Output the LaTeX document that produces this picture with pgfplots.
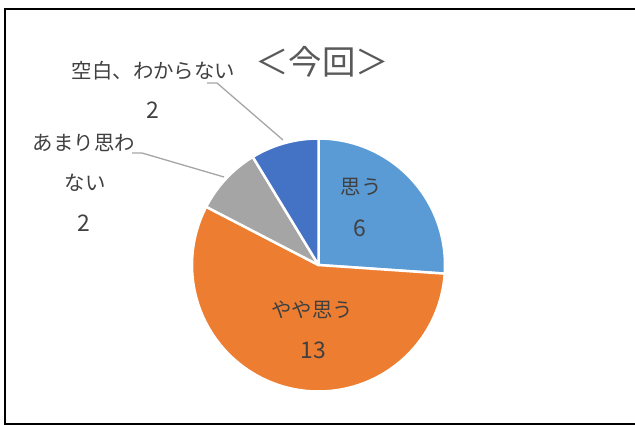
\documentclass[border=0pt]{standalone}
\usepackage{fontspec}
\setmainfont{Noto Sans CJK JP}
\usepackage{pgfplots}
\usepackage{pgfplotstable}
\pgfplotsset{compat=1.18}
\definecolor{cA}{HTML}{5B9BD5}
\definecolor{cB}{HTML}{ED7D31}
\definecolor{cC}{HTML}{A5A5A5}
\definecolor{cD}{HTML}{4472C4}
\definecolor{txt}{HTML}{404040}
\definecolor{ttl}{HTML}{595959}
\definecolor{lead}{HTML}{A6A6A6}
\pgfplotstableread{
label value
A 6
B 13
C 2
D 2
}\piedata
\def\cx{318.5}%
\def\cy{265}%
\def\r{126.5}%
\begin{document}%
\begin{tikzpicture}
\pgfplotstablegetelem{0}{value}\of\piedata\let\va\pgfplotsretval
\pgfplotstablegetelem{1}{value}\of\piedata\let\vb\pgfplotsretval
\pgfplotstablegetelem{2}{value}\of\piedata\let\vc\pgfplotsretval
\pgfplotstablegetelem{3}{value}\of\piedata\let\vd\pgfplotsretval
\pgfmathsetmacro{\tot}{\va+\vb+\vc+\vd}
\pgfmathsetmacro{\aA}{90}
\pgfmathsetmacro{\aB}{\aA-360*\va/\tot}
\pgfmathsetmacro{\aC}{\aB-360*\vb/\tot}
\pgfmathsetmacro{\aD}{\aC-360*\vc/\tot}
\pgfmathsetmacro{\aE}{\aD-360*\vd/\tot}
\begin{axis}[at={(0,0)}, anchor=south west, width=635bp, height=426bp,
  scale only axis, xmin=0, xmax=635, ymin=0, ymax=426, y dir=reverse,
  hide axis, clip=false]
\draw[line width=2bp, black] (axis cs:660,9.5) -- (axis cs:5,9.5) -- (axis cs:5,423.5) -- (axis cs:660,423.5);
\addplot[fill=cA, draw=white, line width=2.5bp, line join=round, domain=\aB:\aA, samples=90, variable=\t]
  ({\cx+\r*cos(\t)},{\cy-\r*sin(\t)}) -- (axis cs:\cx,\cy) -- cycle;
\addplot[fill=cB, draw=white, line width=2.5bp, line join=round, domain=\aC:\aB, samples=150, variable=\t]
  ({\cx+\r*cos(\t)},{\cy-\r*sin(\t)}) -- (axis cs:\cx,\cy) -- cycle;
\addplot[fill=cC, draw=white, line width=2.5bp, line join=round, domain=\aD:\aC, samples=40, variable=\t]
  ({\cx+\r*cos(\t)},{\cy-\r*sin(\t)}) -- (axis cs:\cx,\cy) -- cycle;
\addplot[fill=cD, draw=white, line width=2.5bp, line join=round, domain=\aE:\aD, samples=40, variable=\t]
  ({\cx+\r*cos(\t)},{\cy-\r*sin(\t)}) -- (axis cs:\cx,\cy) -- cycle;
\draw[lead, line width=1.3bp] (axis cs:207,83) -- (axis cs:217,83) -- (axis cs:283,140);
\draw[lead, line width=1.3bp] (axis cs:132,153) -- (axis cs:142,153) -- (axis cs:224,177);
\node[ttl, font=\fontsize{33.5}{38}\selectfont, inner sep=0pt] at (axis cs:322,62) {＜今回＞};
\begin{scope}[every node/.style={txt, font=\fontsize{20.5}{24}\selectfont, inner sep=0pt}]
\node at (axis cs:361,187) {思う};
\node at (axis cs:312,310) {やや思う};
\node at (axis cs:84,143) {あまり思わ};
\node at (axis cs:85,183) {ない};
\node at (axis cs:153.5,71) {空白、わからない};
\end{scope}
\begin{scope}[every node/.style={txt, font=\fontsize{23}{26}\selectfont, inner sep=0pt}]
\node at (axis cs:360,228) {6};
\node at (axis cs:313,350) {13};
\node at (axis cs:84,223) {2};
\node at (axis cs:153,110) {2};
\end{scope}
\end{axis}
\pgfresetboundingbox
\path[use as bounding box] (0,0) rectangle (635bp,426bp);
\end{tikzpicture}%
\end{document}
